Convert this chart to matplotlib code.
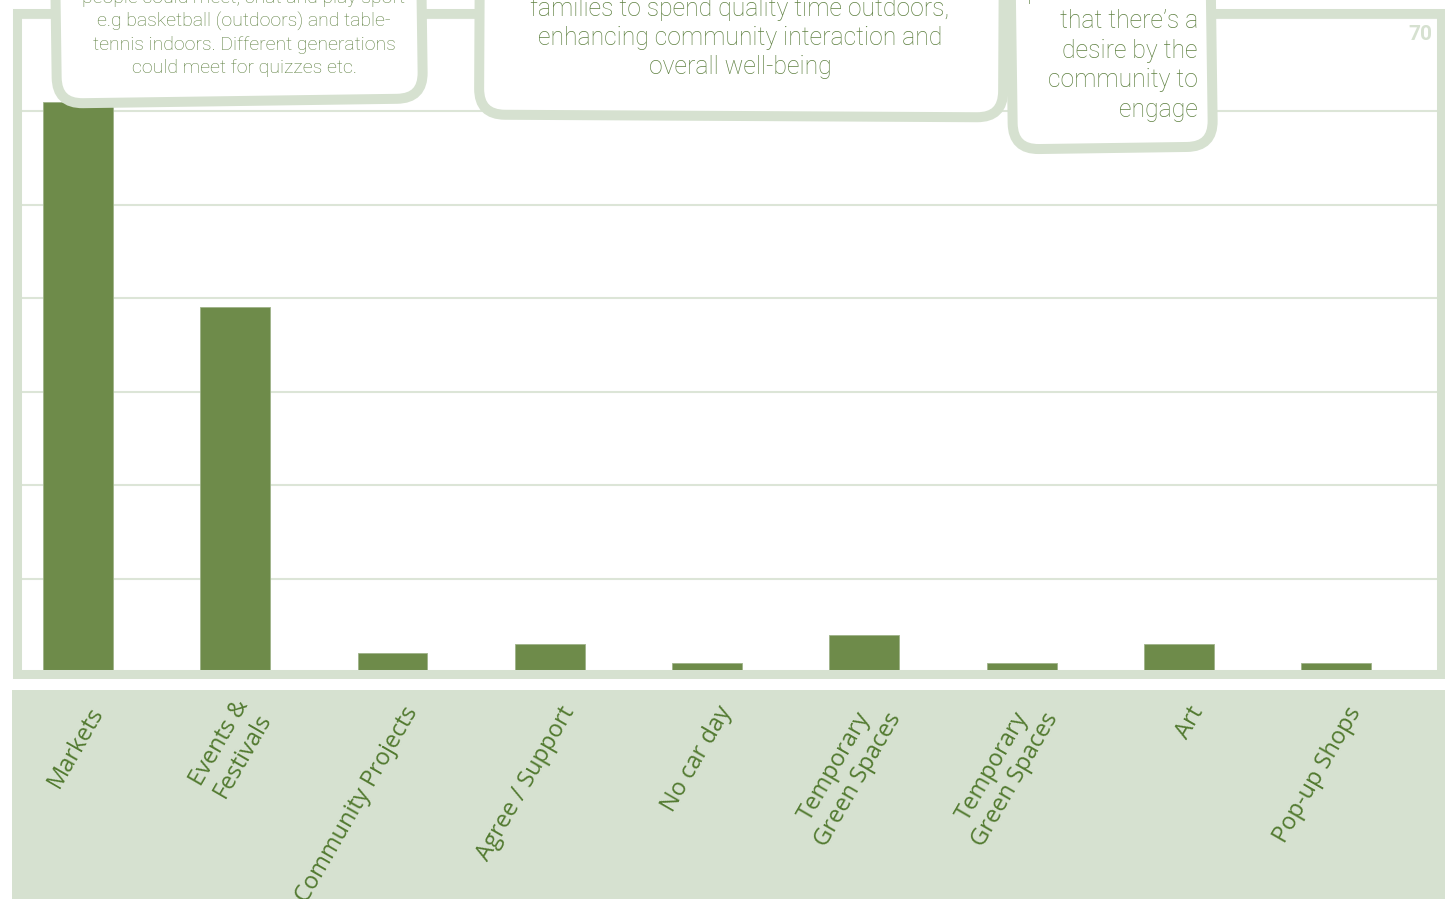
import matplotlib
matplotlib.use('Agg')
import matplotlib.pyplot as plt
import matplotlib.transforms as mtransforms
from matplotlib.patches import Rectangle, FancyBboxPatch

# ---- data ----
categories = ['Markets', 'Events &\nFestivals', 'Community Projects', 'Agree / Support',
              'No car day', 'Temporary\nGreen Spaces', 'Temporary\nGreen Spaces', 'Art',
              'Pop-up Shops']
counts = [61, 39, 2, 3, 1, 4, 1, 3, 1]
y_grid = [10, 20, 30, 40, 50, 60, 70]
y_max_label = '70'

note_left = ['people could meet, chat and play sport',
             'e.g basketball (outdoors) and table-',
             'tennis indoors. Different generations',
             'could meet for quizzes etc.']
note_mid = ['families to spend quality time outdoors,',
            'enhancing community interaction and',
            'overall well-being']
note_right = ['proof of the fact',
              'that there\u2019s a',
              'desire by the',
              'community to',
              'engage']

# colours
bar_col = '#6e8b4a'
pale = '#d6e1d0'
grid_col = '#dce5d7'
label_col = '#527a30'
note_col = '#5e8040'

W, H = 1445, 899
fig = plt.figure(figsize=(W / 100, H / 100), dpi=100)

# background layer (label band)
ax_bg = fig.add_axes([0, 0, 1, 1], zorder=0)
ax_bg.set_xlim(0, W)
ax_bg.set_ylim(H, 0)
ax_bg.axis('off')
ax_bg.add_patch(Rectangle((12, 690), W - 12, H - 690, facecolor=pale, edgecolor='none'))

# chart axes, placed in pixels
left_px, right_px, base_px, top_px = 22, 1437, 672, 17.5
ax = fig.add_axes([left_px / W, (H - base_px) / H, (right_px - left_px) / W, (base_px - top_px) / H],
                  zorder=1)
ax.patch.set_alpha(0)
x = list(range(len(categories)))
ax.bar(x, counts, width=0.445, color=bar_col, edgecolor='#9fb389', linewidth=0.6, zorder=2)
ax.set_xlim(-0.356, 8.642)
ax.set_ylim(0, 70)
ax.set_yticks(y_grid)
ax.yaxis.grid(True, color=grid_col, linewidth=1.5, zorder=0)
ax.tick_params(axis='y', length=0, labelleft=False)
ax.tick_params(axis='x', length=0, pad=26)
for s in ax.spines.values():
    s.set_visible(False)
ax.set_xticks(x)
ax.set_xticklabels(categories, rotation=60, ha='right', va='center', rotation_mode='anchor',
                   fontsize=17, color=label_col, family='Open Sans', multialignment='center',
                   linespacing=1.15)
shift = mtransforms.ScaledTranslation(0.20, 0, fig.dpi_scale_trans)
for lab in ax.get_xticklabels():
    lab.set_transform(lab.get_transform() + shift)

# overlay layer: frame and callouts
ov = fig.add_axes([0, 0, 1, 1], zorder=2)
ov.set_xlim(0, W)
ov.set_ylim(H, 0)
ov.axis('off')
ov.patch.set_alpha(0)

ov.add_patch(Rectangle((16.5, 13), 1441 - 16.5, 674 - 13, facecolor='none',
                       edgecolor=pale, linewidth=6.5))
ov.text(1432, 34, y_max_label, ha='right', va='center', fontsize=15, fontweight='bold',
        color=pale, family='Roboto')


def callout(x0, x1, y1, angle):
    box = FancyBboxPatch((x0, -150), x1 - x0, y1 + 150,
                         boxstyle='round,pad=0,rounding_size=26',
                         facecolor='white', edgecolor=pale, linewidth=7.2)
    rot = mtransforms.Affine2D().rotate_deg_around((x0 + x1) / 2, y1, angle)
    box.set_transform(rot + ov.transData)
    ov.add_patch(box)


callout(57, 423, 101, -0.8)
callout(479, 1003, 116, 0.3)
callout(1013, 1213, 148, -0.8)

for i, line in enumerate(note_left):
    ov.text(244, -2 + i * 23.4, line, ha='center', va='center', fontsize=14,
            fontweight='light', color=note_col, family='Roboto')
for i, line in enumerate(note_mid):
    ov.text(740, 9 + i * 29, line, ha='center', va='center', fontsize=17.8,
            fontweight='light', color=note_col, family='Roboto')
for i, line in enumerate(note_right):
    ov.text(1198, -8 + i * 29.5, line, ha='right', va='center', fontsize=17.8,
            fontweight='light', color=note_col, family='Roboto')

fig.savefig('out.png', dpi=100)
